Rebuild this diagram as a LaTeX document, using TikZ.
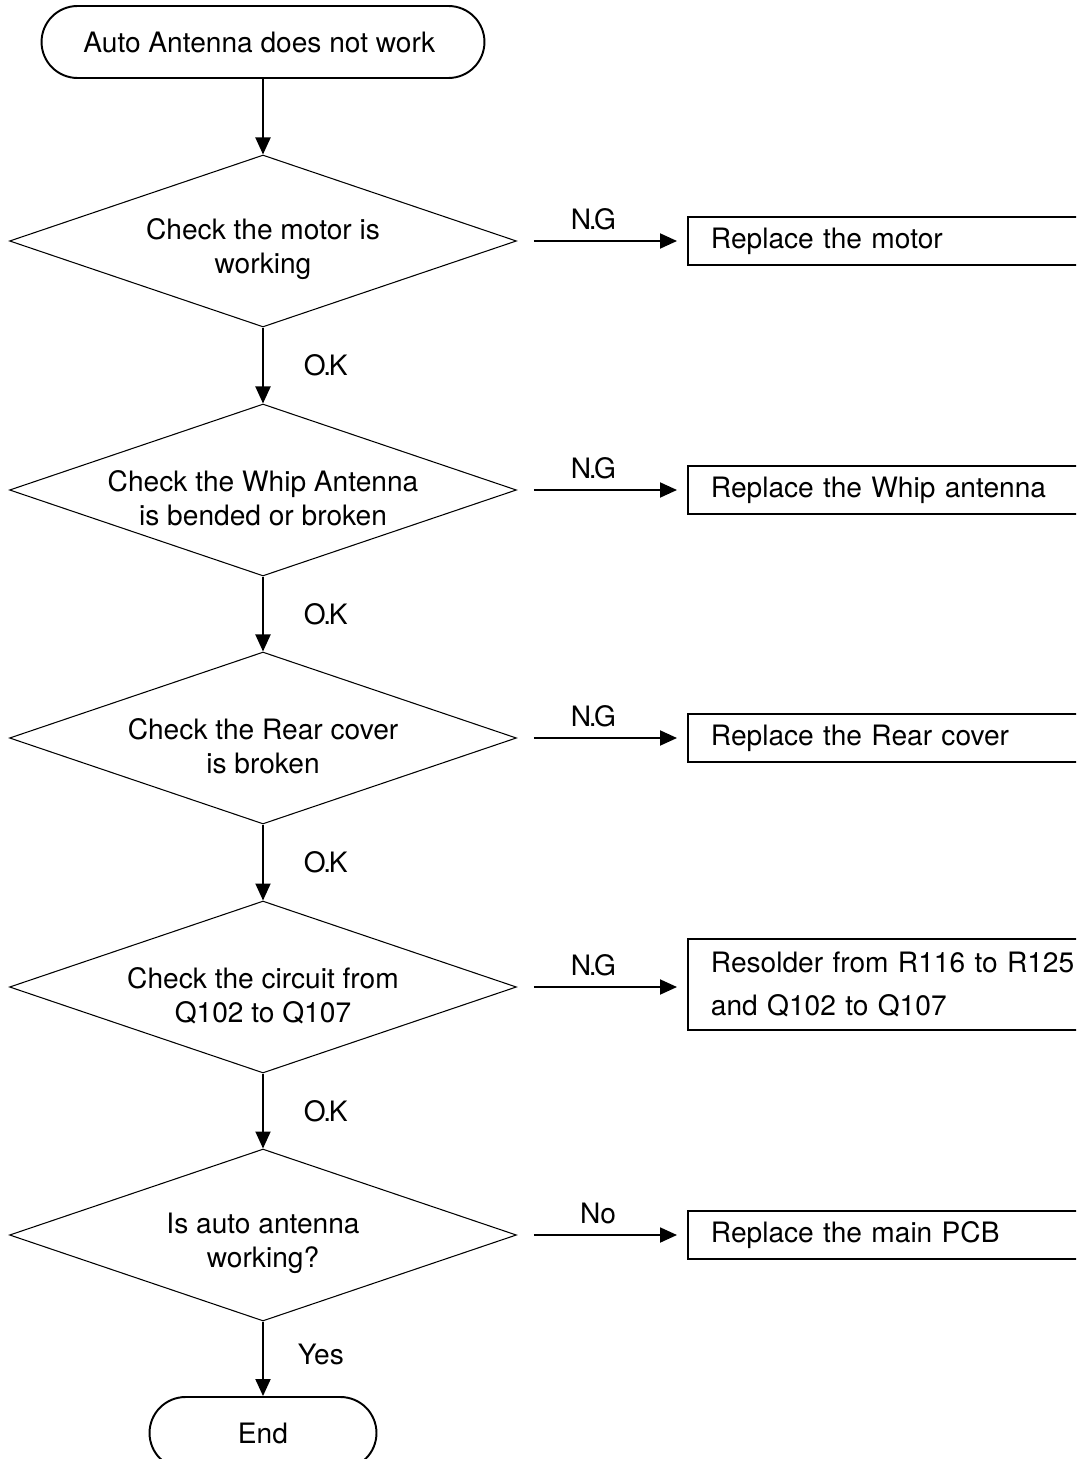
\documentclass[tikz,border=0pt]{standalone}
\usepackage{fontspec}
\setmainfont{TeX Gyre Heros}
\usetikzlibrary{shapes.geometric,arrows.meta}

\newcommand{\tightdot}{\kern-1.4pt.\kern-1.4pt}

\tikzset{
  term/.style={draw,line width=1.1pt,rounded corners=0.72cm,minimum height=1.44cm},
  check/.style={draw,diamond,line width=0.6pt,aspect=2.95,inner sep=0pt,
    minimum width=10.14cm,minimum height=3.44cm},
  qtext/.style={align=center,inner sep=0pt,yshift=-0.17cm},
  fix/.style={draw,line width=1.1pt,anchor=west,minimum height=0.96cm,
    inner xsep=0.46cm,text width=8.08cm,align=left},
  flow/.style={-{Triangle[length=0.34cm,width=0.3cm]},line width=1.1pt},
  tag/.style={inner sep=0pt}
}

\begin{document}
\begin{tikzpicture}[x=0.02cm,y=-0.02cm,font=\fontsize{16}{19.3}\selectfont]
		\useasboundingbox (0,0) rectangle (1076,1459);
		\clip (0,0) rectangle (1076,1459);
		% main column
		\node[term,minimum width=8.86cm] (start) at (263,42) {\hspace*{-0.15cm}Auto Antenna does not work};
		\node[check,label={[qtext]center:{Check the motor is\\working}}] (motor) at (263,241) {};
		\node[check,label={[qtext]center:{Check the Whip Antenna\\is bended or broken}}] (whip) at (263,490) {};
		\node[check,label={[qtext]center:{Check the Rear cover\\is broken}}] (cover) at (263,738) {};
		\node[check,label={[qtext]center:{Check the circuit from\\Q102 to Q107}}] (circuit) at (263,987) {};
		\node[check,label={[qtext]center:{Is auto antenna\\working?}}] (works) at (263,1235) {};
		\node[term,minimum width=4.54cm] (stop) at (263,1433) {End};
		% repair boxes
		\node[fix] (newmotor) at (687,241) {Replace the motor};
		\node[fix] (newwhip) at (687,490) {Replace the Whip antenna};
		\node[fix] (newcover) at (687,738) {Replace the Rear cover};
		\node[fix,minimum height=1.82cm,font=\fontsize{16}{24.4}\selectfont] (resolder) at (687,984.5) {Resolder from R116 to R125\\and Q102 to Q107};
		\node[fix] (newpcb) at (687,1235) {Replace the main PCB};
		% arrows down
		\draw[flow](start)--(motor);
		\draw[flow](motor)--node[tag,right=0.8cm]{O\tightdot K}(whip);
		\draw[flow](whip)--node[tag,right=0.8cm]{O\tightdot K}(cover);
		\draw[flow](cover)--node[tag,right=0.8cm]{O\tightdot K}(circuit);
		\draw[flow](circuit)--node[tag,right=0.8cm]{O\tightdot K}(works);
		\draw[flow](works)--node[tag,right=0.68cm,yshift=0.08cm]{Yes}(stop);
		% arrows right
		\draw[flow,shorten <=0.34cm,shorten >=0.2cm](motor)--node[tag,above=0.2cm,xshift=-0.17cm]{N\tightdot G}(newmotor);
		\draw[flow,shorten <=0.34cm,shorten >=0.2cm](whip)--node[tag,above=0.2cm,xshift=-0.17cm]{N\tightdot G}(newwhip);
		\draw[flow,shorten <=0.34cm,shorten >=0.2cm](cover)--node[tag,above=0.2cm,xshift=-0.17cm]{N\tightdot G}(newcover);
		\draw[flow,shorten <=0.34cm,shorten >=0.2cm](circuit.east)--node[tag,above=0.2cm,xshift=-0.17cm]{N\tightdot G}(circuit.east-|resolder.west);
		\draw[flow,shorten <=0.34cm,shorten >=0.2cm](works)--node[tag,above=0.2cm,xshift=-0.08cm]{No}(newpcb);
		\end{tikzpicture}
\end{document}
